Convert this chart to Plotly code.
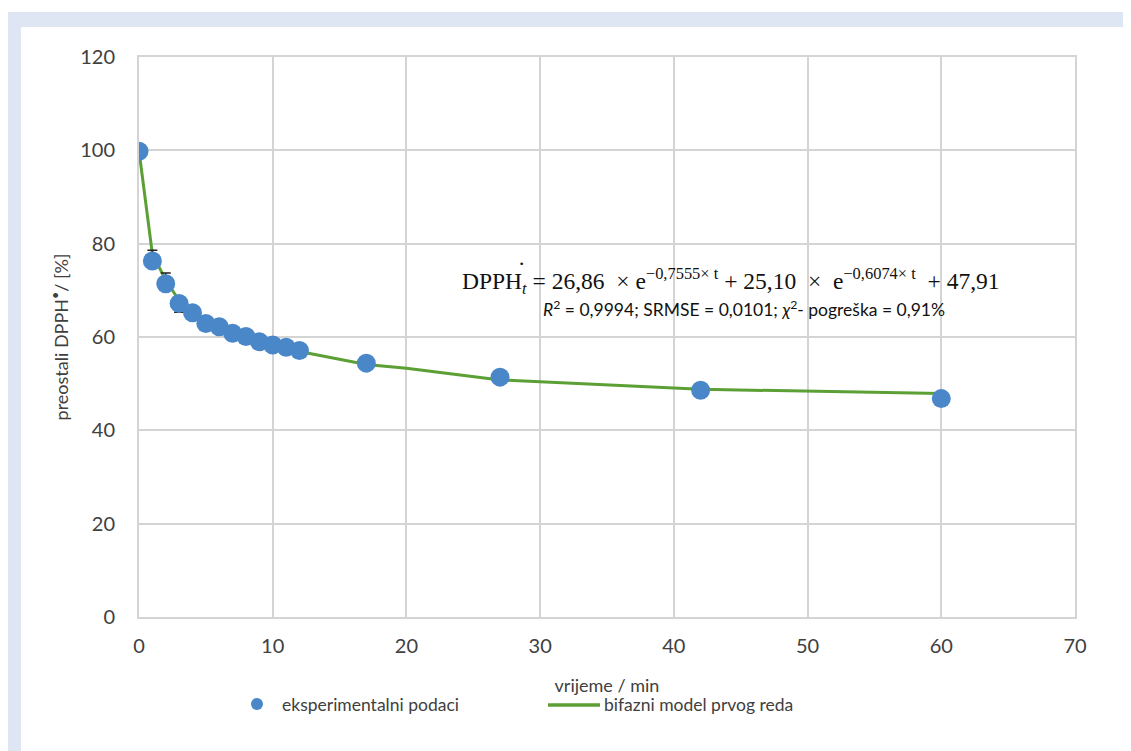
import plotly.graph_objects as go

# data
t_exp = [0, 1, 2, 3, 4, 5, 6, 7, 8, 9, 10, 11, 12, 17, 27, 42, 60]
dpph_exp = [99.8, 76.3, 71.4, 67.2, 65.2, 62.9, 62.2, 60.8, 60.1, 59.0, 58.3, 57.8, 57.1, 54.4, 51.4, 48.6, 46.8]
err_plus = [0, 2.3, 2.3, 0, 0, 0, 0, 0, 0, 0, 0, 0, 0, 0, 0, 0, 0]
err_minus = [0, 0, 0, 1.9, 0, 0, 0, 0, 0, 0, 0, 0, 0, 0, 0, 0, 0]

t_model = [0, 1, 2, 3, 4, 5, 6, 7, 8, 9, 10, 11, 12, 17, 20, 27, 42, 60]
dpph_model = [99.9, 77.8, 72.2, 67.8, 65.0, 63.1, 61.7, 60.6, 59.7, 58.9, 58.2, 57.5, 56.9, 54.1, 53.3, 50.8, 48.8, 47.9]

x_ticks = [0, 10, 20, 30, 40, 50, 60, 70]
y_ticks = [0, 20, 40, 60, 80, 100, 120]

OFF = 8  # page body margin
W, H = 1131 - OFF, 751 - OFF
# plot area in screen pixels: x 139..1075, y 57..617
L = 139 - OFF
R = W - (1075 - OFF)
T = 57 - OFF
B = H - (617 - OFF)
pw, ph = W - L - R, H - T - B


def px(sx):
    return (sx - OFF - L) / pw


def py(sy):
    return (H - B - (sy - OFF)) / ph


font_main = "Lato, 'Open Sans', sans-serif"
grid = "#d4d4d4"
txt = "#404040"

fig = go.Figure()
fig.add_trace(go.Scatter(
    x=t_model, y=dpph_model, mode="lines", name="bifazni model prvog reda",
    line=dict(color="#5b9f35", width=3), showlegend=False))
fig.add_trace(go.Scatter(
    x=t_exp, y=dpph_exp, mode="markers", name="eksperimentalni podaci",
    marker=dict(color="#4a87c9", size=19, line=dict(width=0)),
    error_y=dict(type="data", symmetric=False, array=err_plus, arrayminus=err_minus,
                 color="#222222", thickness=1.5, width=5),
    showlegend=False))

fig.update_layout(
    width=W, height=H,
    margin=dict(l=L, r=R, t=T, b=B),
    paper_bgcolor="white", plot_bgcolor="white",
    font=dict(family=font_main, color=txt),
    showlegend=False,
    xaxis=dict(range=[0, 70], tickvals=x_ticks, ticktext=[str(v) for v in x_ticks],
               showgrid=True, gridcolor=grid, gridwidth=2, zeroline=False,
               showline=True, linecolor=grid, linewidth=2, mirror=True,
               ticks="", tickfont=dict(size=20, color=txt), ticklabelstandoff=10,
               title=dict(text="vrijeme / min", font=dict(size=18, color=txt), standoff=23)),
    yaxis=dict(range=[0, 120], tickvals=y_ticks, ticktext=[str(v) for v in y_ticks],
               showgrid=True, gridcolor=grid, gridwidth=2, zeroline=False,
               showline=True, linecolor=grid, linewidth=2, mirror=True,
               ticks="", tickfont=dict(size=20, color=txt), ticklabelstandoff=18,
               title=dict(text="preostali DPPH<sup>•</sup>/ [%]", font=dict(size=18, color=txt), standoff=7)),
    shapes=[
        dict(type="rect", xref="paper", yref="paper", layer="below",
             x0=px(6), x1=px(1131), y0=py(751), y1=py(12),
             fillcolor="#dfe6f3", line=dict(width=0)),
        dict(type="rect", xref="paper", yref="paper", layer="below",
             x0=px(21), x1=px(1129), y0=py(751), y1=py(27),
             fillcolor="white", line=dict(width=0)),
        # legend samples
        dict(type="line", xref="paper", yref="paper",
             x0=px(548), x1=px(600), y0=py(705), y1=py(705),
             line=dict(color="#5b9f35", width=3.5)),
        dict(type="circle", xref="paper", yref="paper",
             x0=px(251), x1=px(263), y0=py(698), y1=py(710),
             fillcolor="#4a87c9", line=dict(width=0)),
    ],
    annotations=[
        dict(xref="paper", yref="paper", x=px(731), y=py(281), xanchor="center", yanchor="middle",
             showarrow=False,
             text="DPPH<sub><i>t</i></sub> = 26,86  × e<sup>−0,7555× t</sup> + 25,10  ×  e<sup>−0,6074× t</sup>  + 47,91",
             font=dict(family="'Liberation Serif', 'DejaVu Serif', serif", size=23.5, color="#111111")),
        dict(xref="paper", yref="paper", x=px(521), y=py(264), xanchor="center", yanchor="middle",
             showarrow=False, text="•", font=dict(family="DejaVu Sans", size=9, color="#111111")),
        dict(xref="paper", yref="paper", x=px(744), y=py(308), xanchor="center", yanchor="middle",
             showarrow=False,
             text="<i>R</i><sup>2</sup> = 0,9994; SRMSE = 0,0101; <i>χ</i><sup>2</sup>- pogreška = 0,91%",
             font=dict(family=font_main, size=17.5, color="#111111")),
        dict(xref="paper", yref="paper", x=px(280), y=py(705), xanchor="left", yanchor="middle",
             showarrow=False, text="eksperimentalni podaci",
             font=dict(family=font_main, size=17.5, color=txt)),
        dict(xref="paper", yref="paper", x=px(602), y=py(705), xanchor="left", yanchor="middle",
             showarrow=False, text="bifazni model prvog reda",
             font=dict(family=font_main, size=17.5, color=txt)),
    ],
)

fig.write_html("out.html")
